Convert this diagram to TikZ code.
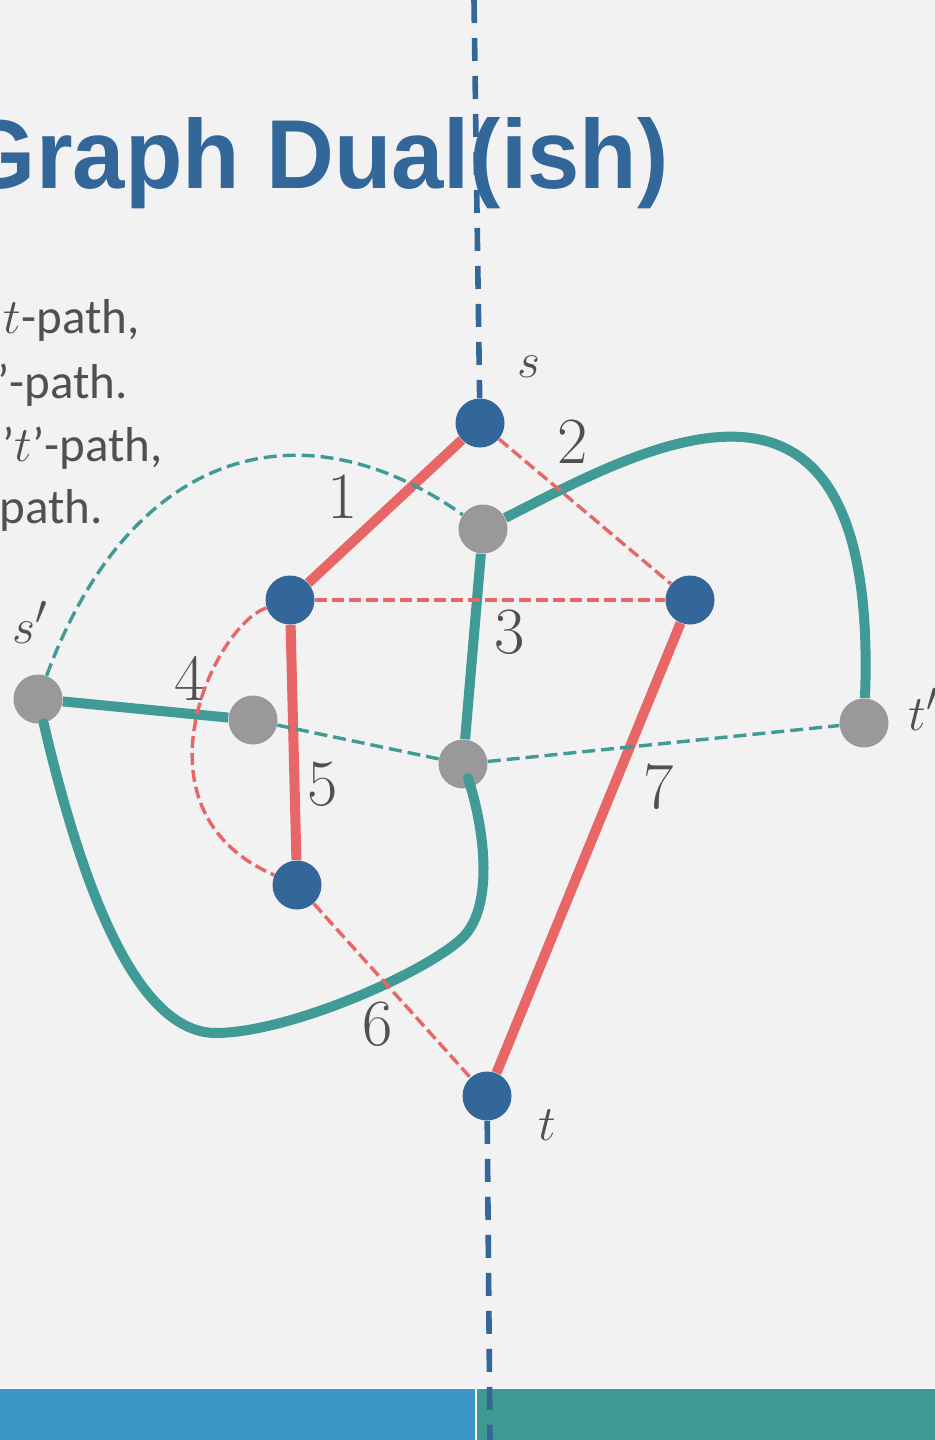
\documentclass[tikz,border=0pt]{standalone}
\usepackage{fontspec}
\newfontfamily\dualtitlefont{Liberation Sans}
\newfontfamily\dualtextfont{Carlito}
\usepackage{tikz}
\usetikzlibrary{arrows.meta,positioning}
\definecolor{dgbg}{RGB}{242,242,242}
\definecolor{dgblue}{RGB}{51,102,153}
\definecolor{dggray}{RGB}{153,153,153}
\definecolor{dgred}{RGB}{232,102,102}
\definecolor{dgteal}{RGB}{64,154,150}
\definecolor{dgtext}{RGB}{80,80,80}
\definecolor{barblue}{RGB}{60,150,200}
\definecolor{barteal}{RGB}{63,152,147}

\begin{document}
\begin{tikzpicture}[x=0.5pt, y=-0.5pt,
  primal/.style={circle, fill=dgblue, minimum size=24.5pt, inner sep=0pt},
  dual/.style={circle, fill=dggray, minimum size=24.5pt, inner sep=0pt},
  redthick/.style={dgred, line width=5pt},
  reddash/.style={dgred, line width=1.7pt, dash pattern=on 6pt off 2.5pt},
  tealthick/.style={dgteal, line width=5pt},
  tealdash/.style={dgteal, line width=1.7pt, dash pattern=on 6.5pt off 3pt},
  elabel/.style={inner sep=0pt, text=dgtext, font=\fontsize{33}{40}\selectfont},
  vlabel/.style={inner sep=0pt, text=dgtext, anchor=base west, font=\fontsize{28}{34}\selectfont},
  bodytext/.style={inner sep=0pt, text=dgtext, anchor=base east, font=\dualtextfont\fontsize{24.5}{30}\selectfont},
  cutline/.style={dgblue, line width=2.8pt, dash pattern=on 11.5pt off 7.5pt}]
% frame
\fill[dgbg] (0,0) rectangle (935,1440);
\useasboundingbox (0,0) rectangle (935,1440);
\clip (0,0) rectangle (935,1440);

% title and text
\node[inner sep=0pt, anchor=base east, text=dgblue, font=\dualtitlefont\fontsize{49}{58}\selectfont\bfseries] (title) at (669,188) {\scalebox{0.96}[1]{Graph Dual(ish)}};
\node[bodytext] (line1) at (140,333) {$t$-path,};
\node[bodytext] (line2) at (128,398) {’-path.};
\node[bodytext] (line3) at (163,461) {’$t$’-path,};
\node[bodytext] (line4) at (103,523) {path.};

% bottom bar
\fill[white] (0,1388) rectangle (935,1440);
\fill[barblue] (0,1389) rectangle (475,1440);
\fill[barteal] (477,1389) rectangle (935,1440);

% primal vertices
\node[primal] (s) at (480,423) {};
\node[primal] (a) at (290,600) {};
\node[primal] (b) at (690,600) {};
\node[primal] (c) at (297,885) {};
\node[primal] (t) at (487,1096) {};
% dual vertices
\node[dual] (g1) at (483,529) {};
\node[dual] (g2) at (253,720) {};
\node[dual] (g3) at (463,764) {};
\node[dual] (sd) at (38,699) {};
\node[dual] (td) at (864,723) {};
\coordinate (g3end) at (468,778);

% solid edges
\draw[redthick] (s) -- (a);
\draw[redthick] (a) -- (c);
\draw[redthick] (b) -- (t);
\draw[tealthick] (g1) -- (g3);
\draw[tealthick] (sd) -- (g2);
\draw[tealthick] (g1) .. controls (640,450) and (880,310) .. (td);
\draw[tealthick, line cap=round] (sd) .. controls (85,900) and (140,1034) .. (217,1033)
  .. controls (290,1032) and (420,975) .. (460,940)
  .. controls (495,910) and (485,830) .. (g3end);

% dashed edges
\draw[reddash] (s) -- (b);
\draw[reddash] (a) -- (b);
\draw[reddash] (a) .. controls (215,625) and (125,810) .. (c);
\draw[reddash] (c) -- (t);
\draw[tealdash] (sd) .. controls (130,450) and (300,400) .. (g1);
\draw[tealdash] (g2) -- (g3);
\draw[tealdash] (g3) -- (td);

% the cut
\coordinate (cuttop) at (474,0);
\coordinate (cutbot) at (490,1440);
\draw[cutline] (cuttop) -- (s);
\draw[cutline] (t) -- (cutbot);

% labels
\node[elabel] (l1) at (343,497) {1};
\node[elabel] (l2) at (573,442) {2};
\node[elabel] (l3) at (510,632) {3};
\node[elabel] (l4) at (190,678) {4};
\node[elabel] (l5) at (323,784) {5};
\node[elabel] (l6) at (378,1024) {6};
\node[elabel] (l7) at (659,787) {7};
\node[vlabel] (ls) at (517,377) {$s$};
\node[vlabel] (lt) at (538,1140) {$t$};
\node[vlabel] (lsd) at (12,643) {$s'$};
\node[vlabel] (ltd) at (908,730) {$t'$};
\end{tikzpicture}
\end{document}
